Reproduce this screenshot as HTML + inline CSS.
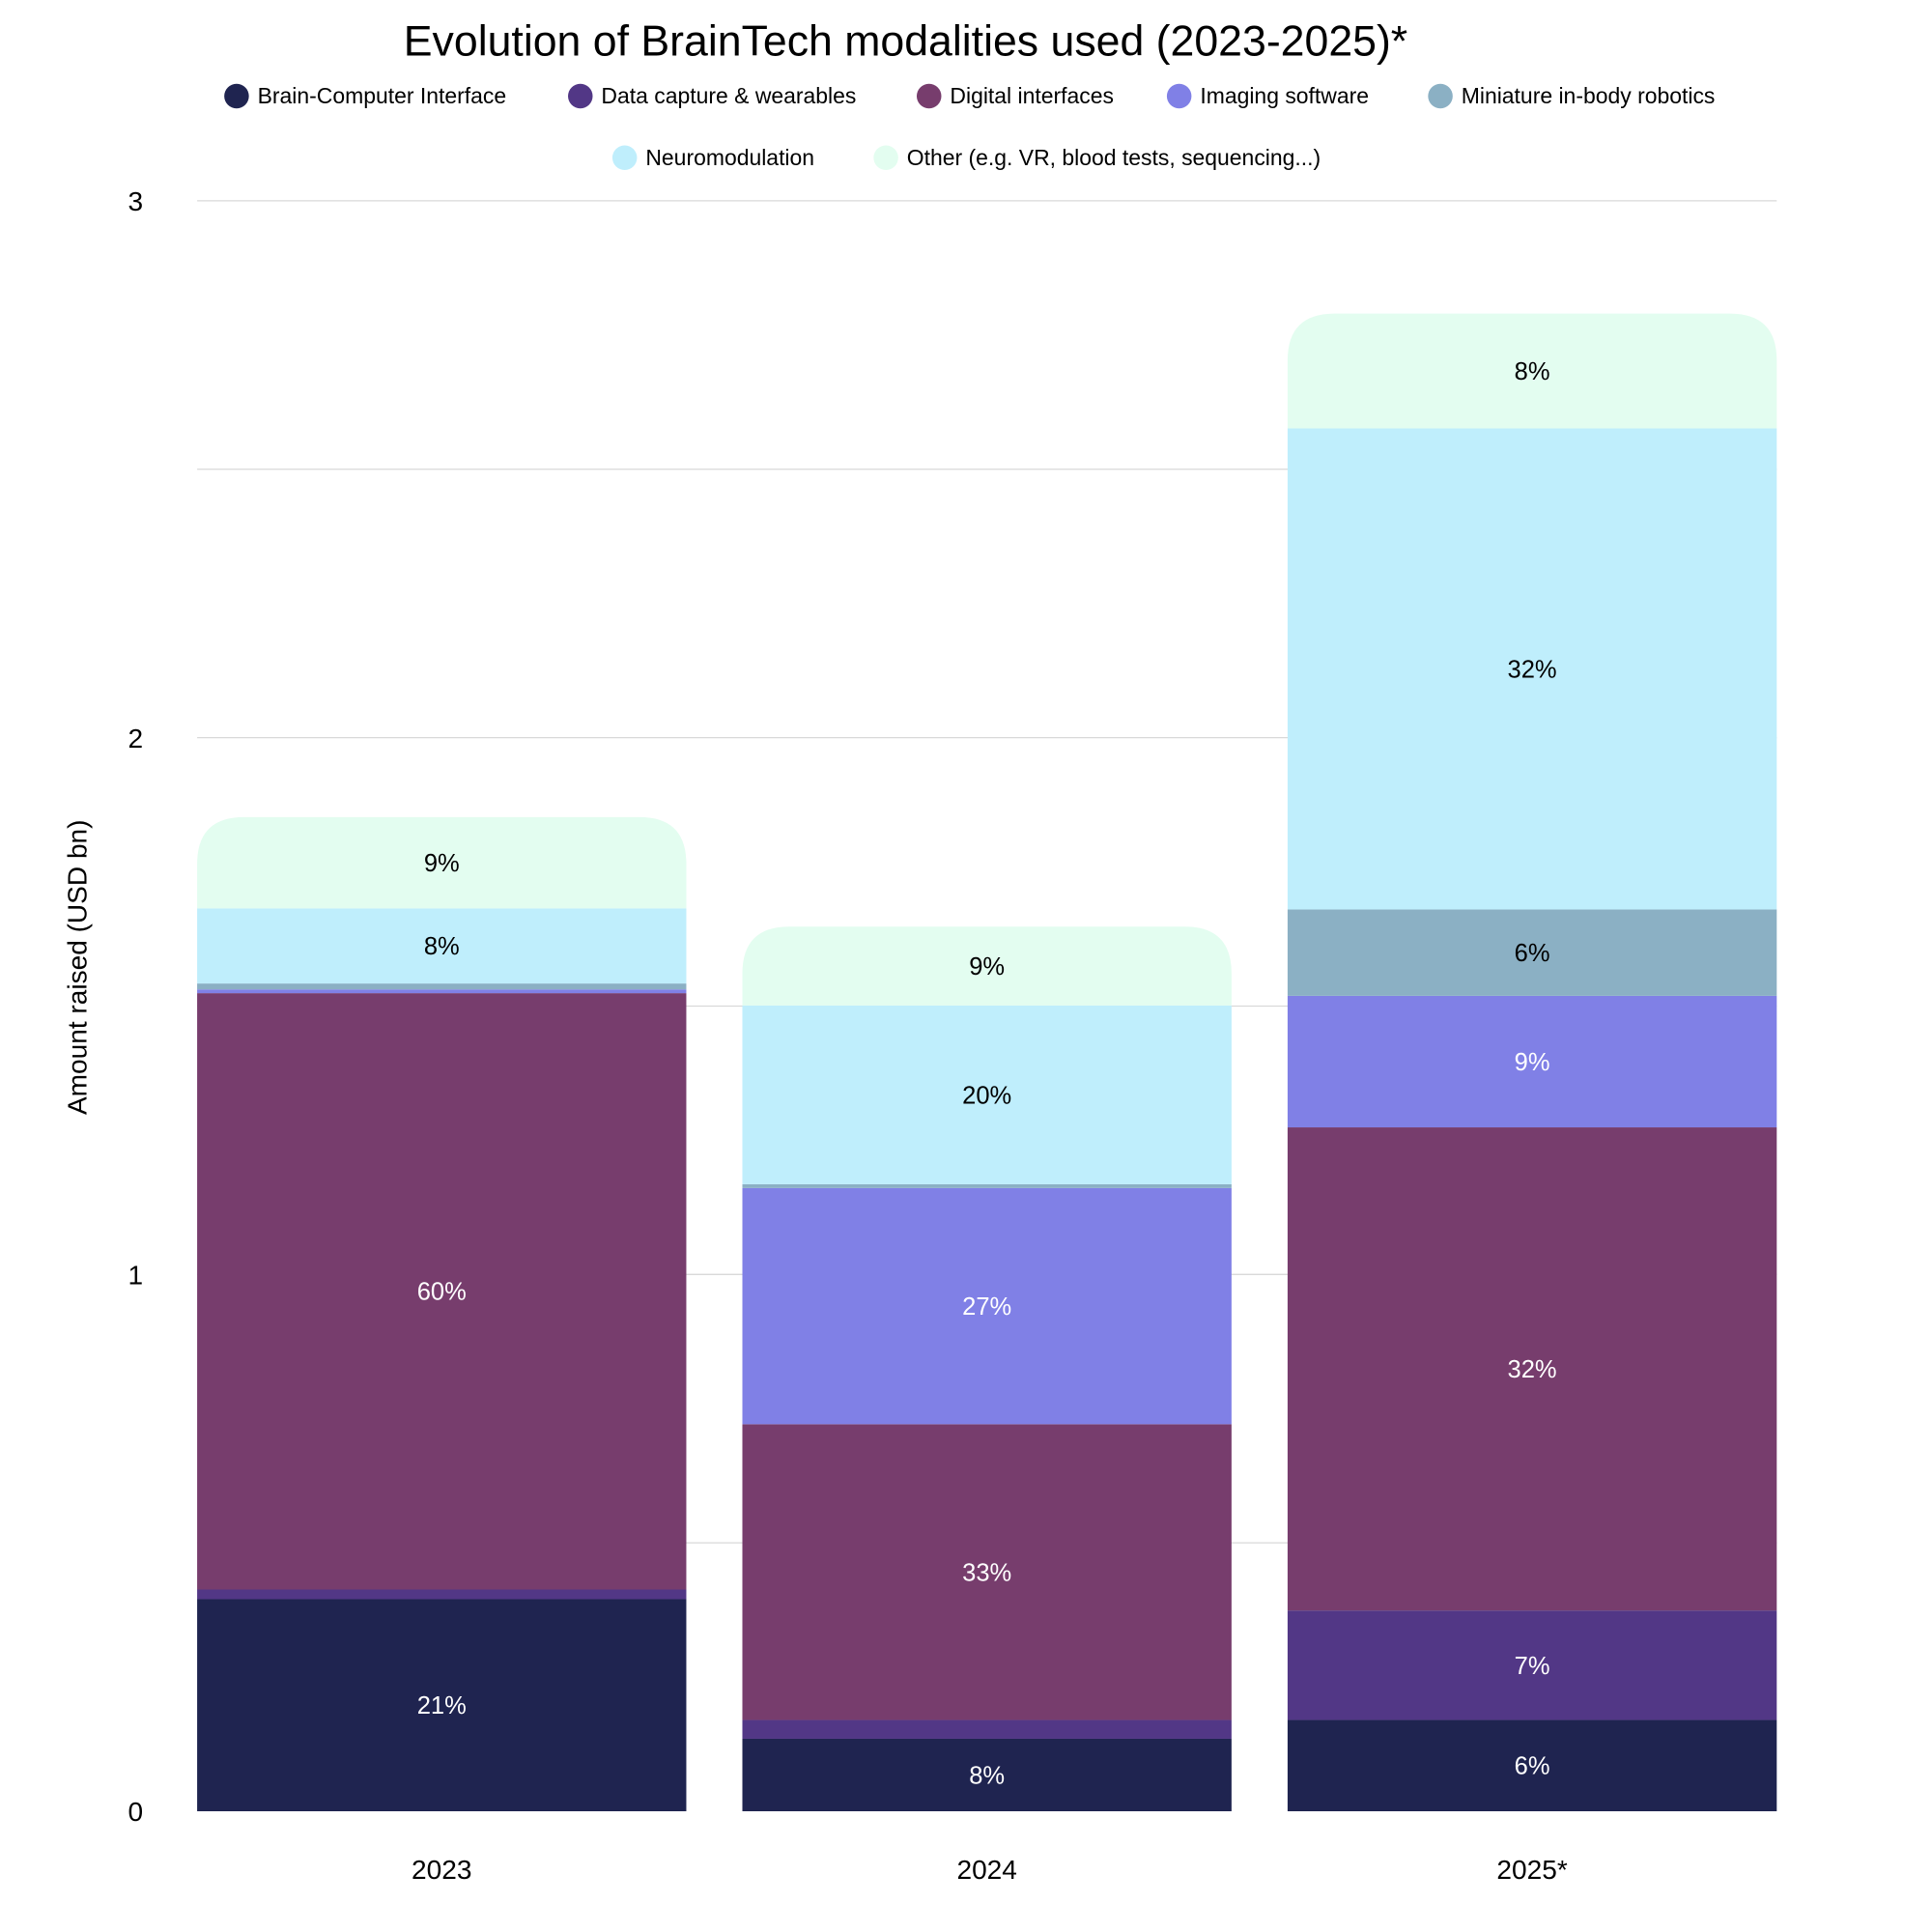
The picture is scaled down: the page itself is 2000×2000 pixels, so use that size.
<!DOCTYPE html>
<html><head><meta charset="utf-8"><style>
html,body{margin:0;padding:0;background:#fff;}
svg{display:block;font-family:"Liberation Sans",sans-serif;}
</style></head><body>
<svg id="chart" width="2000" height="2000" viewBox="0 0 1568 1568" xmlns="http://www.w3.org/2000/svg">
<text x="735" y="45" text-anchor="middle" font-size="35" fill="#000">Evolution of BrainTech modalities used (2023-2025)*</text>
<g id="legend"></g>
<g id="grid"></g>
<g id="bars"></g>
<text transform="translate(70,785) rotate(-90)" text-anchor="middle" font-size="22" fill="#000">Amount raised (USD bn)</text>
</svg>
<script>
const years = ["2023","2024","2025*"];
const seriesNames = ["Brain-Computer Interface","Data capture & wearables","Digital interfaces","Imaging software","Miniature in-body robotics","Neuromodulation","Other (e.g. VR, blood tests, sequencing...)"];
const bci = [0.395,0.135,0.170];
const dataCapture = [0.018,0.035,0.204];
const digital = [1.111,0.551,0.900];
const imaging = [0.007,0.440,0.245];
const robotics = [0.011,0.007,0.161];
const neuromod = [0.140,0.333,0.896];
const other = [0.170,0.147,0.214];
const yTicks = [0,1,2,3];
const gridVals = [0.5,1,1.5,2,2.5,3];

const series = [bci,dataCapture,digital,imaging,robotics,neuromod,other];
const colors = ["#1f2450","#523786","#773d6d","#8080e6","#8bb0c4","#bfeefc","#e3fdf0"];
const textCol = ["#fff","#fff","#fff","#fff","#000","#000","#000"];
const NS="http://www.w3.org/2000/svg";
const y0=1470, yTop=163, yMax=3, plotL=160, plotR=1442;
const yS=v=>y0-(v/yMax)*(y0-yTop);
const gap=45.5;
const barW=(plotR-plotL-gap*(years.length-1))/years.length;
const xS=i=>plotL+i*(barW+gap);
function mk(t,a){const e=document.createElementNS(NS,t);for(const k in a)e.setAttribute(k,a[k]);return e;}

const grid=document.getElementById('grid');
gridVals.forEach(v=>{const l=mk('line',{x1:plotL,x2:plotR,y1:yS(v),y2:yS(v),stroke:'#d9d9d9','stroke-width':1});


grid.appendChild(l);});
yTicks.forEach(v=>{const t=mk('text',{x:110,y:yS(v)+8,'text-anchor':'middle','font-size':22,fill:'#000'});t.textContent=v;


grid.appendChild(t);});

const bars=document.getElementById('bars');
years.forEach((yr,i)=>{
  let cum=0; const x=xS(i);
  const total=series.reduce((s,a)=>s+a[i],0);
  series.forEach((arr,s)=>{
    const v=arr[i]; const yb=yS(cum), yt=yS(cum+v); const h=yb-yt;
    let el;
    if(s===series.length-1){
      const r=Math.min(38,h);
      el=mk('path',{d:`M${x},${yb} L${x},${yt+r} Q${x},${yt} ${x+r},${yt} L${x+barW-r},${yt} Q${x+barW},${yt} ${x+barW},${yt+r} L${x+barW},${yb} Z`,fill:colors[s]});
    } else el=mk('rect',{x:x,y:yt,width:barW,height:h,fill:colors[s]});
    
    
    bars.appendChild(el);
    const pct=Math.round(v/total*100);
    if(pct>=5){
      const t=mk('text',{x:x+barW/2,y:(yb+yt)/2+7,'text-anchor':'middle','font-size':20,fill:textCol[s]});
      t.textContent=pct+'%';
      
      
      bars.appendChild(t);
    }
    cum+=v;
  });
  const xl=mk('text',{x:x+barW/2,y:1525,'text-anchor':'middle','font-size':22,fill:'#000'});
  xl.textContent=yr;
  
  
  bars.appendChild(xl);
});

const leg=document.getElementById('legend');
const legPos=[[192,78],[471,78],[754,78],[957,78],[1169,78],[507,128],[719,128]];
seriesNames.forEach((n,s)=>{
  const g=mk('g',{});
  
  
  g.appendChild(mk('circle',{cx:legPos[s][0],cy:legPos[s][1],r:10,fill:colors[s]}));
  const t=mk('text',{x:legPos[s][0]+17,y:legPos[s][1]+6,'font-size':18,fill:'#000'});
  t.textContent=n;
  g.appendChild(t);
  leg.appendChild(g);
});
</script>
</body></html>
